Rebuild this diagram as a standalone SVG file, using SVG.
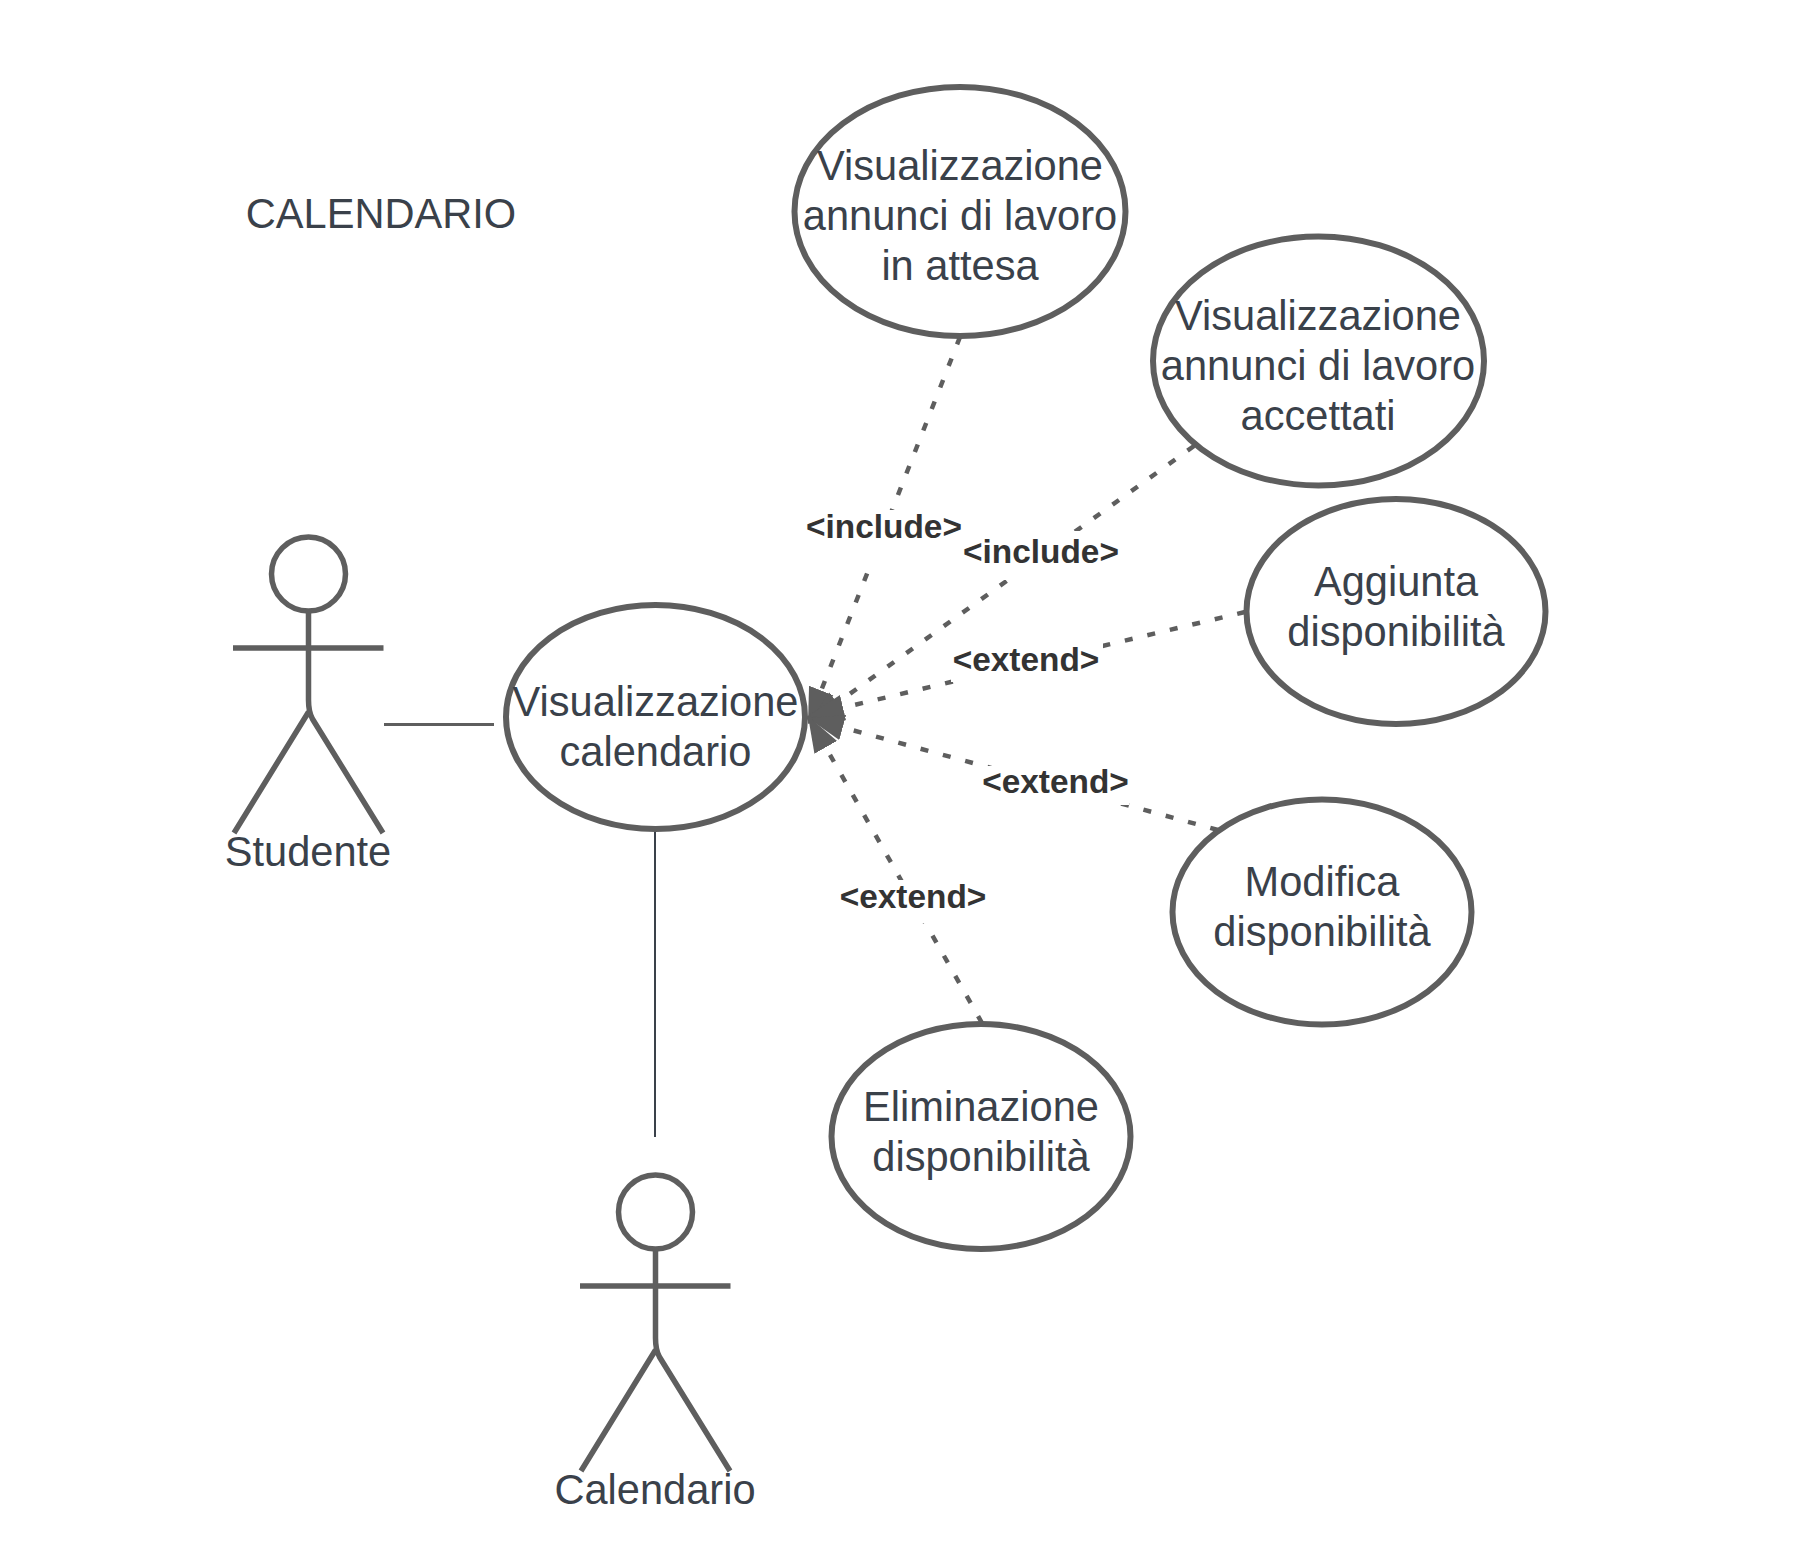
<svg xmlns="http://www.w3.org/2000/svg" width="1813" height="1549" viewBox="0 0 1813 1549">
<style>
.shape{fill:#fff;stroke:#5e5e5e;stroke-width:6}
.stick{fill:none;stroke:#5e5e5e;stroke-width:5.5}
.t{font-family:"Liberation Sans",Arial,sans-serif;font-size:41.6px;fill:#3a414a;text-anchor:middle}
.lab{font-family:"Liberation Sans",Arial,sans-serif;font-size:33.4px;font-weight:bold;fill:#333;text-anchor:middle}
.dash{fill:none;stroke:#5e5e5e;stroke-width:4.5;stroke-dasharray:8 15.1;marker-end:url(#arrow)}
</style>
<defs>
<marker id="arrow" markerUnits="userSpaceOnUse" markerWidth="38" markerHeight="30" refX="36" refY="15" orient="auto">
<path d="M0 2L36 15L0 28Z" fill="#5e5e5e"/>
</marker>
</defs>
<rect width="1813" height="1549" fill="#fff"/>
<text class="t" x="381" y="228">CALENDARIO</text>
<g id="connectors">
<line x1="384" y1="724.5" x2="494" y2="724.5" stroke="#5e5e5e" stroke-width="3"/>
<line x1="655" y1="831" x2="655" y2="1137" stroke="#3a414a" stroke-width="2"/>
<line class="dash" x1="960" y1="337" x2="808" y2="724"/>
<line class="dash" x1="1194" y1="446" x2="808" y2="724"/>
<line class="dash" x1="1245" y1="612" x2="808" y2="716"/>
<line class="dash" x1="1218" y1="830" x2="808" y2="718"/>
<line class="dash" x1="982" y1="1023" x2="808" y2="716"/>
</g>
<g id="edge-labels">
<g id="label-include-1"><rect x="805" y="510" width="158" height="53" fill="#fff"/><text class="lab" x="884" y="538">&lt;include&gt;</text></g>
<g id="label-include-2"><rect x="962" y="531" width="158" height="49" fill="#fff"/><text class="lab" x="1041" y="563">&lt;include&gt;</text></g>
<g id="label-extend-1"><rect x="951" y="640" width="152" height="42" fill="#fff"/><text class="lab" x="1026" y="671">&lt;extend&gt;</text></g>
<g id="label-extend-2"><rect x="979" y="766" width="150" height="39" fill="#fff"/><text class="lab" x="1055.5" y="793">&lt;extend&gt;</text></g>
<g id="label-extend-3"><rect x="839" y="880" width="149" height="43" fill="#fff"/><text class="lab" x="913" y="908">&lt;extend&gt;</text></g>
</g>
<g id="actor-studente">
<circle class="stick" cx="308.5" cy="574" r="37"/>
<path class="stick" d="M233 648H383.5M308.5 611V700Q308.5 712 312.5 719L383 833M308.5 712L234 833"/>
<text class="t" x="308" y="866">Studente</text>
</g>
<g id="actor-calendario">
<circle class="stick" cx="655.5" cy="1212" r="37"/>
<path class="stick" d="M580 1286H730.5M655.5 1249V1338Q655.5 1350 659.5 1357L730 1471M655.5 1350L581 1471"/>
<text class="t" x="655" y="1504">Calendario</text>
</g>
<g id="uc-visualizzazione-calendario">
<ellipse class="shape" cx="655.5" cy="717" rx="149.5" ry="112"/>
<text class="t" x="655.5" y="716">Visualizzazione</text><text class="t" x="655.5" y="766">calendario</text>
</g>
<g id="uc-annunci-attesa">
<ellipse class="shape" cx="960" cy="211.5" rx="165.5" ry="124.5"/>
<text class="t" x="960" y="180">Visualizzazione</text><text class="t" x="960" y="230">annunci di lavoro</text><text class="t" x="960" y="280">in attesa</text>
</g>
<g id="uc-annunci-accettati">
<ellipse class="shape" cx="1318.5" cy="361" rx="165.5" ry="124.5"/>
<text class="t" x="1318" y="330">Visualizzazione</text><text class="t" x="1318" y="380">annunci di lavoro</text><text class="t" x="1318" y="430">accettati</text>
</g>
<g id="uc-aggiunta">
<ellipse class="shape" cx="1396" cy="611.5" rx="149.5" ry="112.5"/>
<text class="t" x="1396" y="596">Aggiunta</text><text class="t" x="1396" y="646">disponibilità</text>
</g>
<g id="uc-modifica">
<ellipse class="shape" cx="1322" cy="912" rx="149.5" ry="112.5"/>
<text class="t" x="1322" y="896">Modifica</text><text class="t" x="1322" y="946">disponibilità</text>
</g>
<g id="uc-eliminazione">
<ellipse class="shape" cx="981" cy="1136.5" rx="149.5" ry="112.5"/>
<text class="t" x="981" y="1121">Eliminazione</text><text class="t" x="981" y="1171">disponibilità</text>
</g>
</svg>
